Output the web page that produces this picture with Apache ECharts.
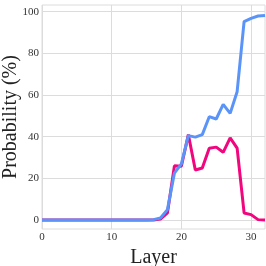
<!DOCTYPE html>
<html><head><meta charset="utf-8">
<script src="https://cdn.jsdelivr.net/npm/echarts@6/dist/echarts.min.js"></script>
<style>html,body{margin:0;padding:0;background:#fff}#c{width:266px;height:266px}</style>
</head><body><div id="c"></div>
<script>
const layers = Array.from({length: 33}, (_, i) => i);
const blueValues = [0,0,0,0,0,0,0,0,0,0,0,0,0,0,0,0,0.2,1,5,22.5,27,40.5,39.8,41,49.6,48.5,55.5,51.2,61.6,95.2,96.8,97.9,98.2];
const pinkValues = [0,0,0,0,0,0,0,0,0,0,0,0,0,0,0,0,0,0.5,3.4,26,25.8,41,24,25,34.5,35,32.5,39.4,34.5,3.4,2.6,0.2,0];
const yTicks = [0,20,40,60,80,100];
const xTicks = [0,10,20,30];
const yTitle = 'Probability (%)';
const xTitle = 'Layer';

const font = 'Liberation Serif';
const chart = echarts.init(document.getElementById('c'), null, {renderer: 'canvas'});
chart.setOption({
  animation: false,
  grid: {left: 42, right: 1, top: 5, bottom: 37, show: true, borderColor: '#dcdcdc', borderWidth: 1,
         containLabel: false, outerBoundsMode: 'none'},
  graphic: [{
    type: 'text', x: 11, y: 117, rotation: Math.PI / 2,
    style: {text: yTitle, fontFamily: font, fontSize: 20, fill: '#222', align: 'center', verticalAlign: 'middle'}
  }],
  xAxis: {
    type: 'value', min: 0, max: 32,
    name: xTitle, nameLocation: 'middle', nameGap: 17,
    nameTextStyle: {fontFamily: font, fontSize: 20, color: '#222'},
    axisLine: {show: false},
    axisTick: {show: false, customValues: xTicks},
    axisLabel: {fontFamily: font, fontSize: 11, color: '#333', margin: 3, customValues: xTicks},
    splitLine: {show: true, lineStyle: {color: '#dcdcdc', width: 1}}
  },
  yAxis: {
    type: 'value', min: -4.3, max: 103.2,
    axisLine: {show: false},
    axisTick: {show: false, customValues: yTicks},
    axisLabel: {fontFamily: font, fontSize: 11, color: '#333', margin: 3, customValues: yTicks},
    splitLine: {show: true, lineStyle: {color: '#dcdcdc', width: 1}}
  },
  series: [
    {type: 'line', data: layers.map((l, i) => [l, pinkValues[i]]), showSymbol: false, clip: false,
     lineStyle: {color: '#f2067e', width: 3}, z: 2},
    {type: 'line', data: layers.map((l, i) => [l, blueValues[i]]), showSymbol: false, clip: false,
     lineStyle: {color: '#5b94f8', width: 3}, z: 3}
  ]
});
</script></body></html>
